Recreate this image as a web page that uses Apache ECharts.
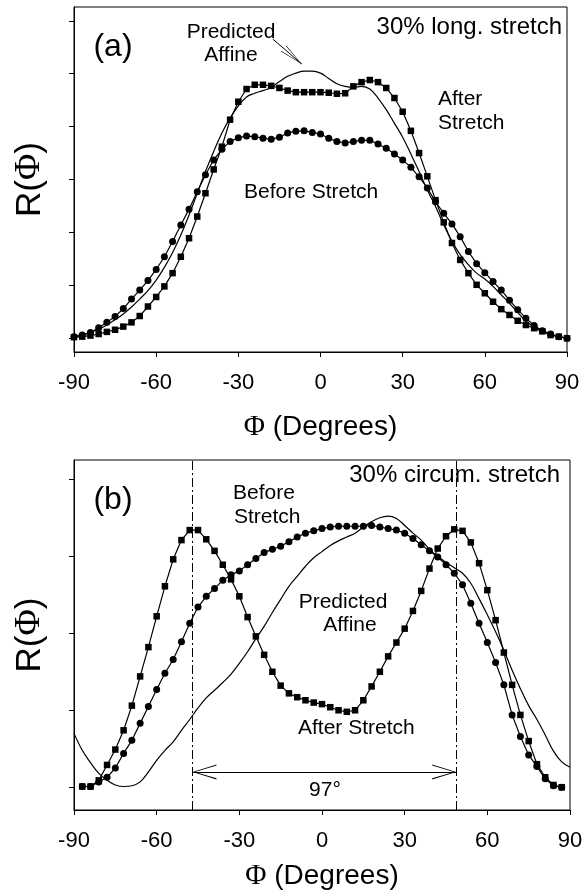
<!DOCTYPE html>
<html>
<head>
<meta charset="utf-8">
<title>R(Φ) before / after stretch</title>
<script src="https://cdn.jsdelivr.net/npm/echarts@6.0.0/dist/echarts.min.js"></script>
<style>
  html, body { margin: 0; padding: 0; background: #fff; }
  #main { width: 587px; height: 894px; }
</style>
</head>
<body>
<div id="main"></div>
<script>
// angle Φ in degrees, 3 degree steps
var phi = [-90,-87,-84,-81,-78,-75,-72,-69,-66,-63,-60,-57,-54,-51,-48,-45,-42,-39,-36,-33,-30,-27,-24,-21,-18,-15,-12,-9,-6,-3,
  0,3,6,9,12,15,18,21,24,27,30,33,36,39,42,45,48,51,54,57,60,63,66,69,72,75,78,81,84,87,90];

// (a) 30% long. stretch
var beforeA = [0.03,0.06,0.11,0.20,0.30,0.41,0.56,0.74,0.91,1.09,1.30,1.54,1.83,2.14,2.44,2.77,3.09,3.37,3.57,3.72,3.79,3.82,3.81,3.78,3.76,3.80,3.88,3.91,3.92,3.89,
  3.86,3.78,3.72,3.69,3.72,3.74,3.74,3.67,3.59,3.48,3.37,3.23,3.05,2.84,2.58,2.36,2.16,1.92,1.64,1.41,1.24,1.07,0.91,0.72,0.54,0.38,0.24,0.14,0.08,0.03,0.00];
var afterA = [0.02,0.03,0.05,0.08,0.12,0.16,0.22,0.30,0.42,0.60,0.78,0.98,1.23,1.54,1.89,2.30,2.74,3.19,3.62,4.13,4.47,4.71,4.79,4.79,4.77,4.73,4.68,4.65,4.65,4.65,
  4.65,4.64,4.62,4.63,4.76,4.84,4.88,4.84,4.73,4.54,4.28,3.92,3.50,3.06,2.61,2.19,1.80,1.48,1.23,1.01,0.85,0.69,0.55,0.44,0.33,0.25,0.19,0.13,0.06,0.03,0.00];
var affineA = [0.03,0.06,0.11,0.17,0.25,0.35,0.46,0.59,0.74,0.90,1.10,1.34,1.62,1.95,2.33,2.74,3.15,3.53,3.88,4.16,4.39,4.56,4.63,4.68,4.74,4.85,4.95,5.01,5.05,5.05,
  5.01,4.91,4.81,4.76,4.74,4.76,4.71,4.54,4.32,4.06,3.80,3.48,3.15,2.80,2.49,2.14,1.83,1.58,1.39,1.23,1.12,0.98,0.82,0.66,0.49,0.32,0.22,0.14,0.08,0.03,0.00];

// (b) 30% circum. stretch
var beforeB = [null,0.01,0.01,0.07,0.13,0.25,0.44,0.61,0.83,1.05,1.27,1.48,1.66,1.89,2.13,2.34,2.48,2.58,2.69,2.76,2.81,2.89,2.97,3.05,3.09,3.13,3.19,3.25,3.30,3.33,
  3.36,3.38,3.39,3.39,3.39,3.39,3.40,3.38,3.36,3.34,3.30,3.23,3.15,3.07,2.99,2.89,2.78,2.63,2.39,2.13,1.88,1.62,1.33,0.94,0.66,0.42,0.27,0.11,0.02,0.00,null];
var afterB = [null,0.01,0.01,0.09,0.29,0.49,0.74,1.06,1.44,1.82,2.22,2.61,2.96,3.21,3.34,3.34,3.22,3.07,2.89,2.70,2.48,2.21,1.96,1.72,1.50,1.32,1.22,1.17,1.13,1.10,
  1.08,1.04,1.00,0.98,1.00,1.13,1.31,1.50,1.70,1.88,2.06,2.29,2.55,2.84,3.10,3.26,3.35,3.33,3.18,2.91,2.56,2.17,1.75,1.33,0.94,0.60,0.30,0.13,0.03,0.00,null];
var affineB = [0.70,0.48,0.32,0.18,0.09,0.03,0.01,0.02,0.07,0.20,0.35,0.48,0.59,0.74,0.88,1.03,1.16,1.26,1.36,1.47,1.61,1.76,1.93,2.09,2.27,2.44,2.61,2.74,2.87,2.98,
  3.06,3.14,3.20,3.25,3.30,3.38,3.45,3.50,3.52,3.49,3.40,3.30,3.21,3.09,3.00,2.92,2.85,2.78,2.65,2.45,2.24,2.02,1.78,1.52,1.28,1.06,0.88,0.68,0.47,0.33,0.26];

// y ticks (no numbers on the R axis)
var yTicksA = [0,1,2,3,4,5,6];
var yTicksB = [0,1,2,3,4];

// annotations in data units
var peakPhi = [-47, 48.7];     // dashed lines, 97 degree span
var spanLevel = 0.2;           // height of the double arrow
var pointerA = [[-17.3, 5.65], [-6.8, 5.18]];  // "Predicted Affine" pointer

var FONT = 'Liberation Sans';
// open V arrow head, tip in the middle of the box
var chevron = 'path://M0,-24 L0.001,-24 Z M0,0 L7.5,24 L6.3,24 L0,2.5 L-6.3,24 L-7.5,24 Z';

function pairs(ys) {
  var out = [];
  for (var i = 0; i < phi.length; i++) {
    if (ys[i] != null) out.push([phi[i], ys[i]]);
  }
  return out;
}

function xAxisCfg(gridIndex, gap) {
  return {
    gridIndex: gridIndex,
    type: 'value',
    min: -90, max: 90, interval: 30,
    axisLine: { show: true, onZero: false, lineStyle: { color: '#000', width: 1 } },
    axisTick: { show: true, inside: false, length: 5, lineStyle: { color: '#000' } },
    axisLabel: { color: '#000', fontSize: 22, fontFamily: FONT, margin: 20 },
    splitLine: { show: false },
    name: '{p|Φ} (Degrees)',
    nameLocation: 'middle',
    nameGap: gap,
    nameTextStyle: {
      color: '#000', fontSize: 28, fontFamily: FONT,
      rich: { p: { fontFamily: 'Liberation Serif', fontSize: 29, color: '#000' } }
    }
  };
}

function yAxisCfg(gridIndex, min, max, ticks) {
  return {
    gridIndex: gridIndex,
    type: 'value',
    min: min, max: max,
    axisLine: { show: true, onZero: false, lineStyle: { color: '#000', width: 1 } },
    axisTick: { show: true, inside: false, length: 5, customValues: ticks, lineStyle: { color: '#000' } },
    axisLabel: { show: false },
    splitLine: { show: false },
    name: 'R({p|Φ})',
    nameLocation: 'middle',
    nameGap: 26,
    nameTextStyle: {
      color: '#000', fontSize: 35, fontFamily: FONT,
      rich: { p: { fontFamily: 'Liberation Serif', fontSize: 36, color: '#000' } }
    }
  };
}

function lineSeries(idx, ys, symbol) {
  return {
    type: 'line',
    xAxisIndex: idx, yAxisIndex: idx,
    data: pairs(ys),
    symbol: symbol,
    symbolSize: symbol == 'rect' ? 6.5 : 7,
    showSymbol: symbol != 'none',
    smooth: symbol == 'none' ? 0.4 : false,
    lineStyle: { color: '#000', width: 1.2 },
    itemStyle: { color: '#000' },
    silent: true
  };
}

// arrow end point, symbol size given per item (w, h)
function end(coord, symbol, size) {
  return { coord: coord, symbol: symbol, symbolSize: size, itemStyle: { color: '#000' } };
}

function text(str, x, y, size, align) {
  return {
    type: 'text', silent: true,
    style: {
      text: str, x: x, y: y,
      font: size + 'px "' + FONT + '"',
      fill: '#000',
      align: align || 'left', verticalAlign: 'middle',
      textAlign: align || 'left', textVerticalAlign: 'middle'
    }
  };
}

function stretchChart(element) {
  var obj = new Object;
  obj.myChart = echarts.init(document.getElementById(element));
  obj._init = function () {
    var seriesA = [
      lineSeries(0, beforeA, 'circle'),
      lineSeries(0, afterA, 'rect'),
      lineSeries(0, affineA, 'none')
    ];
    seriesA[2].markLine = {
      silent: true, animation: false,
      label: { show: false },
      lineStyle: { color: '#000', width: 1, type: 'solid' },
      data: [[end(pointerA[0], 'none', 1), end(pointerA[1], chevron, [8, 48])]]
    };

    var seriesB = [
      lineSeries(1, beforeB, 'circle'),
      lineSeries(1, afterB, 'rect'),
      lineSeries(1, affineB, 'none')
    ];
    seriesB[0].markLine = {
      silent: true, animation: false,
      symbol: 'none',
      label: { show: false },
      lineStyle: { color: '#000', width: 1, type: [9, 3, 2, 3] },
      data: peakPhi.map(function (p) { return { xAxis: p }; })
    };
    seriesB[1].markLine = {
      silent: true, animation: false,
      label: { show: false },
      lineStyle: { color: '#000', width: 1, type: 'solid' },
      data: [[end([peakPhi[0], spanLevel], chevron, [15, 48]),
              end([peakPhi[1], spanLevel], chevron, [15, 48])]]
    };

    obj.option = {
      animation: false,
      backgroundColor: '#fff',
      textStyle: { fontFamily: FONT, color: '#000' },
      grid: [
        { left: 74, top: 7, width: 493, height: 345, show: true, borderColor: '#000', borderWidth: 1 },
        { left: 74, top: 460, width: 496, height: 350, show: true, borderColor: '#000', borderWidth: 1 }
      ],
      xAxis: [xAxisCfg(0, 61), xAxisCfg(1, 52)],
      yAxis: [yAxisCfg(0, -0.26, 6.26, yTicksA), yAxisCfg(1, -0.295, 4.25, yTicksB)],
      series: seriesA.concat(seriesB),
      graphic: { elements: [
        // panel (a)
        text('(a)', 113, 47, 32, 'center'),
        text('Predicted', 231, 32, 21, 'center'),
        text('Affine', 231, 55, 21, 'center'),
        text('30% long. stretch', 562, 27, 24, 'right'),
        text('After', 438, 99, 21, 'left'),
        text('Stretch', 438, 123, 21, 'left'),
        text('Before Stretch', 244, 192, 21, 'left'),
        // panel (b)
        text('(b)', 113, 500, 32, 'center'),
        text('30% circum. stretch', 560, 475, 24, 'right'),
        text('Before', 233, 493, 21, 'left'),
        text('Stretch', 234, 517, 21, 'left'),
        text('Predicted', 343, 602, 21, 'center'),
        text('Affine', 350, 625, 21, 'center'),
        text('After Stretch', 298, 728, 21, 'left'),
        text('97°', 325, 790, 21, 'center')
      ] }
    };
    obj.myChart.setOption(obj.option);
  };
  obj._init();
  return obj;
}

stretchChart('main');
</script>
</body>
</html>
